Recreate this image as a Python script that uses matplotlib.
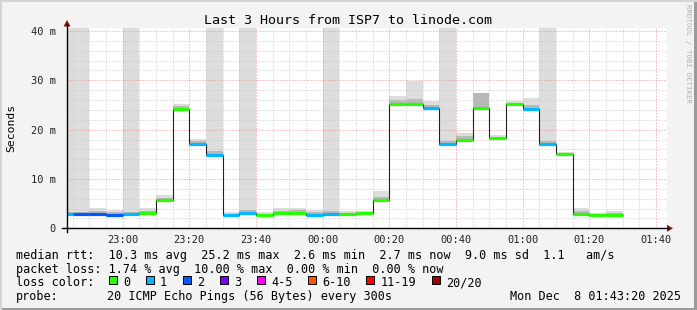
import numpy as np
import pandas as pd
import matplotlib
matplotlib.use("Agg")
import matplotlib.pyplot as plt
import matplotlib.dates as mdates
from matplotlib.ticker import MultipleLocator, FuncFormatter
from matplotlib.patches import Rectangle, Polygon
from matplotlib.lines import Line2D

# one value per 5 minute step, first step starts 22:40 (only partly visible)
first_step = "2025-12-07 22:40"
view_start = "2025-12-07 22:43:20"
view_end = "2025-12-08 01:43:20"

# median rtt in ms
median = [2.8, 2.8, 3.0, 2.6, 2.8, 3.2, 5.7, 24.1, 17.1, 14.9, 2.6, 3.2,
          2.6, 3.2, 3.2, 2.6, 3.0, 2.8, 3.2, 5.7, 25.2, 25.2, 24.3, 17.0,
          18.0, 24.3, 18.3, 25.2, 24.1, 17.0, 15.0, 3.0, 2.6, 2.7]
# lost pings out of 20
loss = [1, 2, 2, 2, 1, 0, 0, 0, 1, 1, 1, 1, 0, 0, 0, 1, 1, 0, 0, 0, 0, 0,
        1, 1, 0, 0, 0, 0, 1, 1, 0, 0, 0, 0]
# smoke: slowest ping and upper quartile (ms)
ping_max = [60, 60, 4.1, 3.7, 60, 4.1, 6.8, 25.2, 18.1, 60, 3.3, 60,
            3.4, 4.1, 4.2, 3.7, 60, 3.6, 3.6, 7.6, 26.8, 29.9, 25.9, 60,
            19.4, 27.5, 18.9, 25.8, 26.5, 60, 15.5, 4.1, 3.2, 3.5]
ping_q3 = [3.3, 3.4, 3.6, 3.3, 3.4, 3.6, 6.2, 24.8, 17.6, 15.6, 3.0, 3.7,
           3.0, 3.6, 3.7, 3.3, 3.5, 3.2, 3.4, 6.4, 26.0, 26.3, 24.9, 17.6,
           18.7, 27.5, 18.6, 25.5, 24.9, 17.6, 15.3, 3.6, 2.9, 3.2]

loss_labels = ["0", "1", "2", "3", "4-5", "6-10", "11-19", "20/20"]
loss_colors = ["#26ff00", "#00b8ff", "#0059ff", "#7e00ff", "#ff00ff",
               "#ff5500", "#ff0000", "#a10000"]
# which legend colour a given loss count maps to
loss_bucket = {0: 0, 1: 1, 2: 2, 3: 3}

title = "Last 3 Hours from ISP7 to linode.com"
row1 = "median rtt:  10.3 ms avg  25.2 ms max  2.6 ms min  2.7 ms now  9.0 ms sd  1.1   am/s"
row2 = "packet loss: 1.74 % avg  10.00 % max  0.00 % min  0.00 % now"
probe = "20 ICMP Echo Pings (56 Bytes) every 300s"
stamp = "Mon Dec  8 01:43:20 2025"

MONO = "DejaVu Sans Mono"
W, H = 697, 310


def P(x, y):
    # pixel position (from top-left) to figure fraction
    return (x / W, 1 - y / H)


fig = plt.figure(figsize=(W / 100, H / 100), dpi=100)
fig.patch.set_facecolor("#f3f3f3")

y0, y40 = 228.3, 31.0
top = 28.0
ax = fig.add_axes([67 / W, (H - y0) / H, 600 / W, (y0 - top) / H])
ax.set_facecolor("white")

edges = pd.date_range(first_step, periods=len(median) + 1, freq="5min")
en = mdates.date2num(edges)
left, right = en[:-1], en[1:]
width = right - left

med = np.array(median)
# smoke
ax.bar(left, np.array(ping_max) - med, bottom=med, width=width, align="edge",
       color="#dddddd", lw=0, zorder=1)
ax.bar(left, np.array(ping_q3) - med, bottom=med, width=width, align="edge",
       color="#b8b8b8", lw=0, zorder=1.1)

# median step + loss coloured segments
ax.stairs(med, en, baseline=None, color="#202020", lw=0.8, zorder=3)
cols = [loss_colors[loss_bucket[l]] for l in loss]
ax.hlines(med, left, right, colors=cols, lw=2.3, zorder=4, capstyle="butt")

ax.set_xlim(mdates.datestr2num(view_start), mdates.datestr2num(view_end))
ax.set_ylim(0, 40 * (y0 - top) / (y0 - y40))

ax.xaxis.set_major_locator(mdates.MinuteLocator(byminute=[0, 20, 40]))
ax.xaxis.set_minor_locator(mdates.MinuteLocator(byminute=range(0, 60, 5)))
ax.xaxis.set_major_formatter(mdates.DateFormatter("%H:%M"))
ax.yaxis.set_major_locator(MultipleLocator(10))
ax.yaxis.set_minor_locator(MultipleLocator(2))
ax.yaxis.set_major_formatter(FuncFormatter(lambda v, p: "0" if v == 0 else "%d m" % v))

ax.set_axisbelow(False)
ax.grid(which="minor", color="#c8c8c8", lw=0.72, ls=(0, (1, 2)))
ax.grid(which="major", color="#f09090", lw=0.72, ls=(0, (1, 2)))
ax.tick_params(which="both", length=0)
ax.tick_params(axis="x", pad=5, labelsize=7.5, labelcolor="#222222")
ax.tick_params(axis="y", pad=8, labelsize=7.5, labelcolor="#222222")
for lab in ax.get_xticklabels() + ax.get_yticklabels():
    lab.set_family(MONO)
for s in ax.spines.values():
    s.set_visible(False)

# axis lines with arrows
fig.add_artist(Line2D([62 / W, 668 / W], [1 - y0 / H] * 2, color="black", lw=1))
fig.add_artist(Line2D([67 / W] * 2, [1 - 232 / H, 1 - 24 / H], color="black", lw=1))
fig.add_artist(Polygon([P(667, 224.8), P(667, 231.8), P(673, y0)], closed=True,
                       transform=fig.transFigure, color="#8b1010", lw=0))
fig.add_artist(Polygon([P(63.5, 26.5), P(70.5, 26.5), P(67, 20)], closed=True,
                       transform=fig.transFigure, color="#8b1010", lw=0))

# text
fig.text(*P(348.5, 23.5), title, family=MONO, fontsize=9.6, ha="center", va="baseline")
fig.text(*P(11, 127.5), "Seconds", family=MONO, fontsize=8.2, rotation=90,
         ha="center", va="center")
fig.text(*P(688, 4), "RRDTOOL / TOBI OETIKER", family=MONO, fontsize=5.3,
         rotation=270, ha="center", va="top", color="#b0b0b0")

fs = 8.5
cw = 7.125
fig.text(*P(16, 259), row1, family=MONO, fontsize=fs, va="baseline")
fig.text(*P(16, 272.5), row2, family=MONO, fontsize=fs, va="baseline")
fig.text(*P(16, 286), "loss color:", family=MONO, fontsize=fs, va="baseline")
bx = 108.5
for lab, c in zip(loss_labels, loss_colors):
    fig.add_artist(Rectangle(P(bx, 284), 8 / W, 8 / H, transform=fig.transFigure,
                             facecolor=c, edgecolor="black", lw=0.7))
    fig.text(*P(bx + 14.5, 286), lab, family=MONO, fontsize=fs, va="baseline")
    bx += 37 + cw * (len(lab) - 1)
fig.text(*P(16, 300), "probe:", family=MONO, fontsize=fs, va="baseline")
fig.text(*P(107, 300), probe, family=MONO, fontsize=fs, va="baseline")
fig.text(*P(681, 300), stamp, family=MONO, fontsize=fs, va="baseline", ha="right")

# frame around the image
fig.add_artist(Rectangle((0, 0), 1, 2 / H, transform=fig.transFigure, color="#9a9a9a", lw=0))
fig.add_artist(Rectangle((1 - 3 / W, 0), 3 / W, 1, transform=fig.transFigure, color="#9a9a9a", lw=0))
fig.add_artist(Rectangle((0, 1 - 2 / H), 1, 2 / H, transform=fig.transFigure, color="#d4d4d4", lw=0))
fig.add_artist(Rectangle((0, 0), 2 / W, 1, transform=fig.transFigure, color="#d4d4d4", lw=0))

fig.savefig("out.png", dpi=100, facecolor=fig.get_facecolor())
